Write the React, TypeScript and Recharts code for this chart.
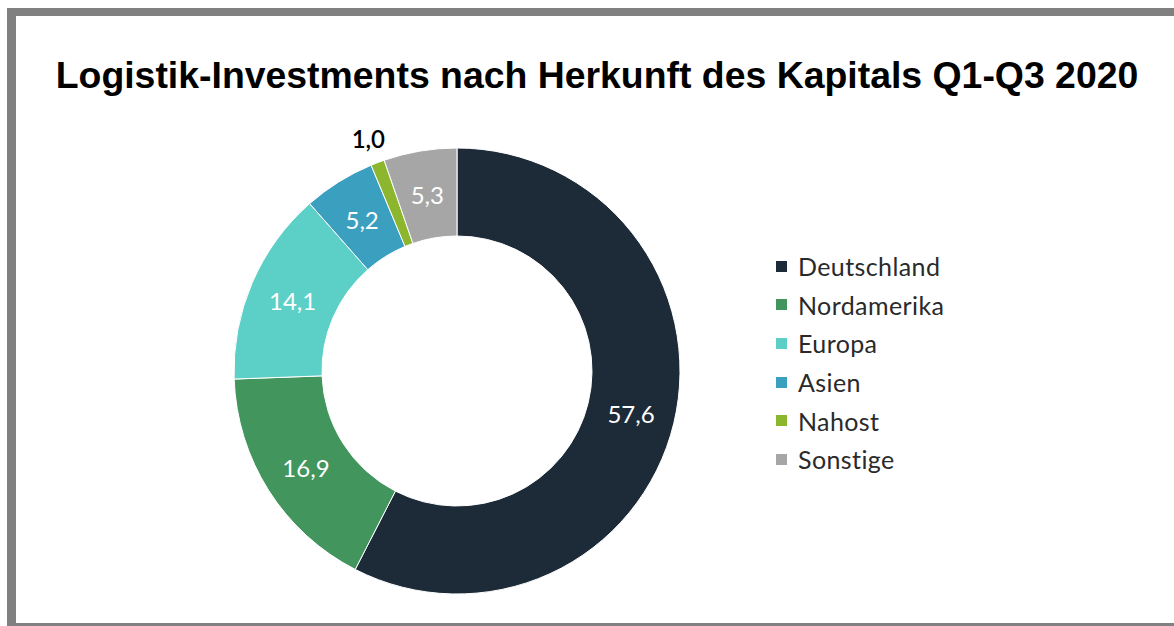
import { Cell, Legend, Pie, PieChart } from 'recharts'

const regions = ['Deutschland', 'Nordamerika', 'Europa', 'Asien', 'Nahost', 'Sonstige']
const shares = [57.6, 16.9, 14.1, 5.2, 1.0, 5.3]
const colors = ['#1d2b38', '#42955c', '#5ccfc7', '#3ba0c0', '#8cb62e', '#a6a6a6']

const data = regions.map((name, i) => ({ name, value: shares[i] }))

const RADIAN = Math.PI / 180
const labelFont = 'Lato, "Noto Sans", sans-serif'

type LabelProps = {
  cx: number
  cy: number
  midAngle: number
  innerRadius: number
  outerRadius: number
  value: number
}

function renderLabel({ cx, cy, midAngle, innerRadius, outerRadius, value }: LabelProps) {
  // tiny slices get their number outside the ring, in black
  const outside = value < 2
  const r = outside ? outerRadius + 26 : (innerRadius + outerRadius) / 2
  const x = cx + r * Math.cos(-midAngle * RADIAN)
  const y = cy + r * Math.sin(-midAngle * RADIAN)
  return (
    <text
      x={x}
      y={y}
      fill={outside ? '#000' : '#fff'}
      textAnchor="middle"
      dominantBaseline="central"
      fontSize={24}
      fontWeight={outside ? 600 : 400}
      fontFamily={labelFont}
    >
      {value.toFixed(1).replace('.', ',')}
    </text>
  )
}

function renderLegend() {
  return (
    <ul style={{ listStyle: 'none', margin: 0, padding: 0, fontFamily: labelFont }}>
      {regions.map((name, i) => (
        <li
          key={name}
          style={{
            display: 'flex',
            alignItems: 'center',
            height: 38.6,
            fontSize: 25,
            letterSpacing: 0.4,
            color: '#2a2a2a',
          }}
        >
          <span
            style={{
              display: 'inline-block',
              width: 11,
              height: 11,
              background: colors[i],
              marginRight: 11,
            }}
          />
          {name}
        </li>
      ))}
    </ul>
  )
}

export default function App() {
  return (
    <div
      style={{
        position: 'absolute',
        left: 7,
        top: 8,
        width: 1167,
        height: 618,
        boxSizing: 'border-box',
        borderTop: '8px solid #808080',
        borderLeft: '9px solid #808080',
        borderBottom: '3px solid #808080',
        background: '#fff',
      }}
    >
      <div
        style={{
          position: 'absolute',
          left: 0,
          top: 41,
          width: 1162,
          textAlign: 'center',
          fontFamily: '"Liberation Sans", Arial, sans-serif',
          fontWeight: 'bold',
          fontSize: 37.4,
          lineHeight: '37px',
          color: '#000',
        }}
      >
        Logistik-Investments nach Herkunft des Kapitals Q1-Q3 2020
      </div>
      <div style={{ position: 'absolute', left: 0, top: 0 }}>
        <PieChart width={1158} height={607}>
          <Pie
            data={data}
            dataKey="value"
            nameKey="name"
            cx={436}
            cy={350}
            innerRadius={135}
            outerRadius={223}
            startAngle={90}
            endAngle={-270}
            stroke="#ffffff"
            strokeWidth={1}
            label={renderLabel}
            labelLine={false}
            isAnimationActive={false}
          >
            {data.map((d, i) => (
              <Cell key={d.name} fill={colors[i]} />
            ))}
          </Pie>
          <Legend
            layout="vertical"
            content={renderLegend}
            wrapperStyle={{ left: 760, top: 231, width: 260 }}
          />
        </PieChart>
      </div>
    </div>
  )
}
